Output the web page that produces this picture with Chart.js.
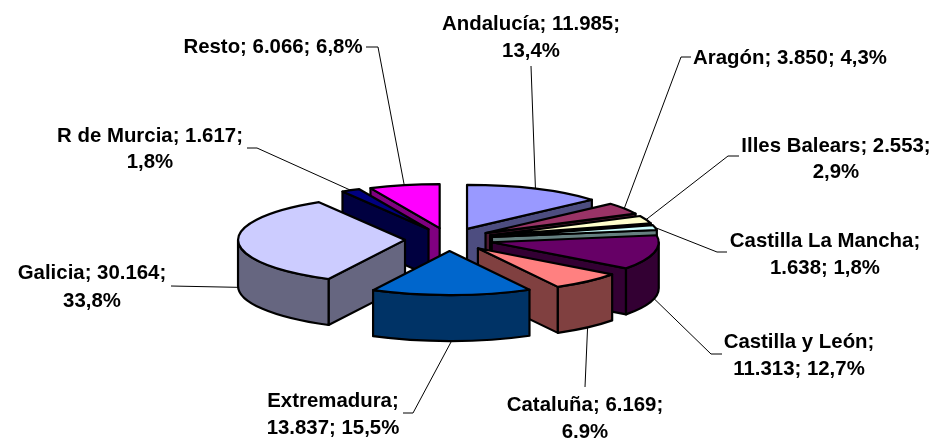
<!DOCTYPE html>
<html>
<head>
<meta charset="utf-8">
<title>Pie 3D</title>
<script src="https://cdn.jsdelivr.net/npm/chart.js@4/dist/chart.umd.min.js"></script>
<style>
  html, body { margin: 0; padding: 0; background: #fff; }
  canvas { display: block; }
</style>
</head>
<body>
<canvas id="pieChart" width="936" height="438"></canvas>
<script>
// Data
const categories = ['Andalucía', 'Aragón', 'Illes Balears', 'Castilla La Mancha', 'Castilla y León', 'Cataluña', 'Extremadura', 'Galicia', 'R de Murcia', 'Resto'];
const values = [11985, 3850, 2553, 1638, 11313, 6169, 13837, 30164, 1617, 6066];
const valueLabels = ['11.985', '3.850', '2.553', '1.638', '11.313', '6.169', '13.837', '30.164', '1.617', '6.066'];
const percentLabels = ['13,4%', '4,3%', '2,9%', '1,8%', '12,7%', '6,9%', '15,5%', '33,8%', '1,8%', '6,8%'];

// Colours
const topColors = ['#9999FF', '#993366', '#FFFFCC', '#CCFFFF', '#660066', '#FF8080', '#0066CC', '#CCCCFF', '#000080', '#FF00FF'];
const sideColors = ['#4D4D80', '#4D1A33', '#808066', '#668080', '#330033', '#804040', '#003366', '#666680', '#000040', '#800080'];

// Label layout: how many parts on line one, text centre, baselines, leader path after the slice
const labelBreak = [2, 3, 2, 1, 1, 2, 1, 2, 2, 3];
const labelX = [531, 790, 836, 825, 799, 585, 333, 92, 150, 273];
const labelY = [[30, 57], [64], [152, 178], [247, 274], [348, 375], [411, 438], [407, 434], [279, 307], [142, 168], [53]];
const leaders = [
  [[531, 66]],
  [[681, 57], [691, 57]],
  [[728, 156], [739, 156]],
  [[717, 252], [727, 252]],
  [[711, 354], [722, 354]],
  [[585, 387]],
  [[413, 413], [403, 413]],
  [[171, 286]],
  [[257, 148], [247, 148]],
  [[378, 47], [366, 47]]
];

const squash = 44 / 167;
const depth = 46;
const explode = 44;

function sliceGeom(arc) {
  const mid = (arc.startAngle + arc.endAngle) / 2;
  return {
    x: arc.x + Math.cos(mid) * explode,
    y: arc.y + Math.sin(mid) * explode * squash,
    r: arc.outerRadius,
    mid: mid
  };
}

function paintFace(ctx, color, pathFn) {
  ctx.beginPath();
  pathFn();
  ctx.closePath();
  ctx.fillStyle = color;
  ctx.fill();
  ctx.stroke();
}

// flat wall from the apex out to the rim at one angle
function radialWall(ctx, g, angle, color) {
  const ox = g.x + Math.cos(angle) * g.r;
  const oy = g.y + Math.sin(angle) * g.r * squash;
  paintFace(ctx, color, () => {
    ctx.moveTo(g.x, g.y);
    ctx.lineTo(ox, oy);
    ctx.lineTo(ox, oy + depth);
    ctx.lineTo(g.x, g.y + depth);
  });
}

const pie3d = {
  id: 'pie3d',
  beforeDatasetsDraw(chart) {
    const ctx = chart.ctx;
    const arcs = chart.getDatasetMeta(0).data;
    const order = arcs.map((a, i) => i).sort((p, q) => {
      return Math.sin(sliceGeom(arcs[p]).mid) - Math.sin(sliceGeom(arcs[q]).mid);
    });

    ctx.save();
    ctx.strokeStyle = '#000';
    ctx.lineWidth = 2.2;
    ctx.lineJoin = 'round';

    order.forEach(i => {
      const arc = arcs[i];
      const g = sliceGeom(arc);
      const start = arc.startAngle;
      const end = arc.endAngle;
      const ry = g.r * squash;

      if (Math.cos(start) < 0) radialWall(ctx, g, start, sideColors[i]);
      if (Math.cos(end) > 0) radialWall(ctx, g, end, sideColors[i]);

      const from = Math.max(start, 0);
      const to = Math.min(end, Math.PI);
      if (to > from) {
        paintFace(ctx, sideColors[i], () => {
          ctx.ellipse(g.x, g.y, g.r, ry, 0, from, to);
          ctx.ellipse(g.x, g.y + depth, g.r, ry, 0, to, from, true);
        });
      }

      paintFace(ctx, topColors[i], () => {
        ctx.moveTo(g.x, g.y);
        ctx.ellipse(g.x, g.y, g.r, ry, 0, start, end);
      });
    });
    ctx.restore();
    return false;
  },
  afterDraw(chart) {
    const ctx = chart.ctx;
    const arcs = chart.getDatasetMeta(0).data;
    ctx.save();

    // Leader lines
    ctx.strokeStyle = '#000';
    ctx.lineWidth = 1;
    arcs.forEach((arc, i) => {
      const g = sliceGeom(arc);
      const px = g.x + Math.cos(g.mid) * g.r;
      let py = g.y + Math.sin(g.mid) * g.r * squash;
      if (Math.sin(g.mid) > 0) py += depth;
      ctx.beginPath();
      ctx.moveTo(px, py);
      leaders[i].forEach(p => ctx.lineTo(p[0], p[1]));
      ctx.stroke();
    });

    // Labels
    ctx.fillStyle = '#000';
    ctx.font = 'bold 20.4px "Liberation Sans"';
    ctx.textAlign = 'center';
    ctx.textBaseline = 'alphabetic';
    categories.forEach((name, i) => {
      const parts = [name + ';', valueLabels[i] + ';', percentLabels[i]];
      const first = parts.slice(0, labelBreak[i]).join(' ');
      const second = parts.slice(labelBreak[i]).join(' ');
      ctx.fillText(first, labelX[i], labelY[i][0]);
      if (second) ctx.fillText(second, labelX[i], labelY[i][1]);
    });
    ctx.restore();
  }
};

new Chart(document.getElementById('pieChart').getContext('2d'), {
  type: 'pie',
  data: {
    labels: categories,
    datasets: [{
      data: values,
      backgroundColor: topColors,
      borderWidth: 0
    }]
  },
  options: {
    responsive: false,
    animation: false,
    radius: 167,
    layout: { padding: { left: 0, right: 38, top: 41, bottom: 0 } },
    plugins: {
      legend: { display: false },
      tooltip: { enabled: false }
    }
  },
  plugins: [pie3d]
});
</script>
</body>
</html>
